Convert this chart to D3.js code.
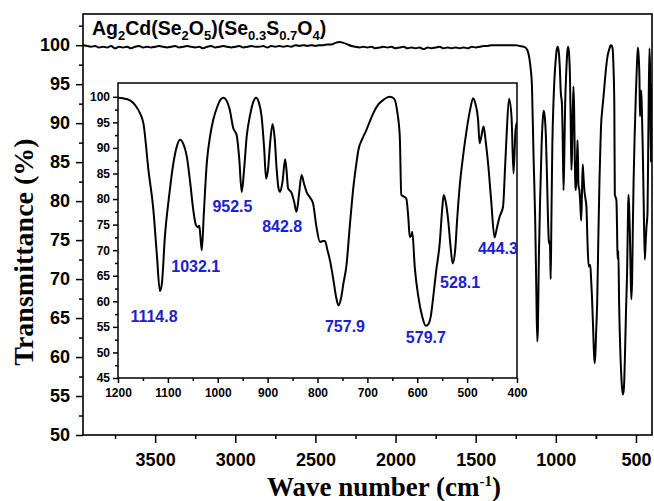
<!DOCTYPE html>
<html><head><meta charset="utf-8">
<script src="https://cdn.jsdelivr.net/npm/d3@7"></script>
<style>body{margin:0;background:#fff}</style>
</head><body>
<svg id="chart" width="654" height="501"></svg>
<script>
// ---- data ----
const highWave = [3950,3925,3900,3875,3850,3825,3800,3775,3750,3725,3700,3675,3650,3625,3600,3575,3550,3525,3500,3475,3450,3425,3400,3375,3350,3325,3300,3275,3250,3225,3200,3175,3150,3125,3100,3075,3050,3025,3000,2975,2950,2925,2900,2875,2850,2825,2800,2775,2750,2725,2700,2675,2650,2625,2600,2575,2550,2525,2500,2475,2450,2425,2400,2375,2350,2325,2300,2275,2250,2225,2200,2175,2150,2125,2100,2075,2050,2025,2000,1975,1950,1925,1900,1875,1850,1825,1800,1775,1750,1725,1700,1675,1650,1625,1600,1575,1550,1525,1500,1475,1450,1425,1400,1375,1350,1325,1300,1275,1250,1225];
const highT = [100.0,99.9,99.8,99.9,99.7,99.8,99.7,99.9,99.6,99.8,99.7,99.8,99.6,99.8,99.9,99.7,99.8,99.7,99.8,99.9,99.8,99.7,99.8,99.9,99.7,99.8,99.9,99.8,99.7,99.8,99.6,99.8,99.9,99.7,99.8,99.9,99.8,99.7,99.8,99.9,99.7,99.8,99.9,99.8,99.8,99.9,99.7,99.9,99.8,99.9,99.8,99.9,99.8,100.0,99.9,100.0,99.9,100.0,99.9,100.0,100.0,100.1,100.1,100.3,100.4,100.3,100.1,99.9,99.8,99.7,99.8,99.7,99.8,99.6,99.7,99.8,99.7,99.8,99.6,99.7,99.8,99.6,99.7,99.6,99.7,99.5,99.7,99.6,99.7,99.8,99.6,99.7,99.6,99.7,99.6,99.7,99.6,99.8,99.7,99.8,99.9,99.9,100.0,100.0,100.0,100.0,100.0,100.0,100.0,99.9];
const fpWave = [1200,1190,1176,1165,1156,1149,1139,1129,1122,1116,1112,1106,1097,1089,1082,1076,1069,1062,1055,1049,1044,1040,1037,1035,1032,1028,1022,1015,1009,1000,994,988,982,976,969,962,957,952,947,942,935,928,923,918,912,907,903,899,895,890,886,882,878,875,870,865,862,859,852,847,842,837,832,827,822,815,809,802,795,789,785,780,775,768,763,758,753,748,742,735,728,722,718,710,702,695,688,678,668,660,655,650,645,640,635,632,627,622,618,615,612,610,605,598,590,583,578,573,568,562,555,550,547,543,538,533,529,524,520,515,508,501,494,488,483,478,475,471,467,463,458,452,445,440,435,428,424,421,416,411,407,403,400];
const fpT = [99.8,99.7,99.3,98.3,96.8,94.8,85.7,77.8,69.0,62.0,63.5,72.6,81.0,87.0,90.3,91.6,90.8,88.3,83.0,77.8,75.0,74.5,74.8,73.0,70.0,77.0,87.0,92.5,95.5,98.3,99.5,99.8,99.2,97.5,93.9,92.5,88.0,81.4,86.0,92.2,96.5,99.2,99.8,99.0,96.1,90.0,84.0,86.0,91.0,94.7,92.0,86.0,82.0,81.4,83.5,87.8,85.5,82.1,81.2,79.5,77.5,81.0,84.7,83.0,81.4,80.3,79.2,74.5,71.6,71.8,71.8,70.0,68.0,64.1,61.0,59.2,60.5,63.5,67.0,75.0,82.4,87.0,89.6,91.8,93.5,95.2,96.8,98.5,99.4,99.9,100.0,99.9,99.4,97.0,92.2,80.8,80.5,80.1,76.5,72.6,72.8,73.6,66.7,61.0,57.0,55.2,55.5,57.0,60.8,66.0,71.3,78.0,80.8,79.5,75.9,70.5,67.4,70.0,76.0,82.4,88.5,93.5,97.5,99.7,98.5,95.5,90.9,92.5,94.2,91.5,87.0,80.0,72.5,74.5,76.5,78.5,86.0,92.2,99.6,96.1,85.0,93.5,95.0];
const peakWaves = [1114.8,1032.1,952.5,842.8,757.9,579.7,528.1,444.3];
const peakText = ["1114.8","1032.1","952.5","842.8","757.9","579.7","528.1","444.3"];
const mainXTicks = [3500,3000,2500,2000,1500,1000,500];
const mainYTicks = [50,55,60,65,70,75,80,85,90,95,100];
const insetXTicks = [1200,1100,1000,900,800,700,600,500,400];
const insetYTicks = [45,50,55,60,65,70,75,80,85,90,95,100];

// ---- layout ----
const M = {left:83, right:652, top:14, bottom:435};
const I = {left:118, right:517, top:83, bottom:378};
const labelLayout = [[-6.5,57.1],[-6,66.9],[-9,78.6],[-14,74.7],[6.5,55.2],[-1.5,53],[7,63.8],[3,70.4]];
const sans = "'Liberation Sans', Arial, sans-serif";
const serif = "'Liberation Serif', 'Times New Roman', serif";

const svg = d3.select("#chart");
svg.append("rect").attr("width",654).attr("height",501).attr("fill","#fff");

const allWave = highWave.concat(fpWave);
const allT = highT.concat(fpT);
const mainData = allWave.map((w,i)=>[w, allT[i]]);
const fpData = fpWave.map((w,i)=>[w, fpT[i]]);

const x = d3.scaleLinear().domain([3950,400]).range([M.left,M.right]);
const y = d3.scaleLinear().domain([50,104]).range([M.bottom,M.top]);

svg.append("clipPath").attr("id","mclip").append("rect")
  .attr("x",M.left).attr("y",M.top).attr("width",M.right-M.left).attr("height",M.bottom-M.top);

const mainLine = d3.line().x(d=>x(d[0])).y(d=>y(d[1])).curve(d3.curveMonotoneX);
svg.append("path").datum(mainData).attr("d",mainLine).attr("fill","none")
  .attr("stroke","#000").attr("stroke-width",2).attr("clip-path","url(#mclip)");

// main axes
function styleAxis(g, size){
  g.select(".domain").remove();
  g.selectAll(".tick line").attr("stroke","#000").attr("stroke-width",1.5);
  g.selectAll("text").attr("font-family",sans).attr("font-weight","bold").attr("font-size",size).attr("fill","#000");
}
const gx = svg.append("g").attr("transform",`translate(0,${M.bottom})`)
  .call(d3.axisBottom(x).tickValues(mainXTicks).tickSize(8).tickPadding(10).tickFormat(d3.format("d")));
styleAxis(gx,18);
const gxm = svg.append("g").attr("transform",`translate(0,${M.bottom})`)
  .call(d3.axisBottom(x).tickValues(mainXTicks.map(v=>v+250).concat([750])).tickSize(4).tickFormat(""));
styleAxis(gxm,18);
const gy = svg.append("g").attr("transform",`translate(${M.left},0)`)
  .call(d3.axisLeft(y).tickValues(mainYTicks).tickSize(7).tickPadding(6));
styleAxis(gy,18);
const gym = svg.append("g").attr("transform",`translate(${M.left},0)`)
  .call(d3.axisLeft(y).tickValues(mainYTicks.slice(0,-1).map(v=>v+2.5).concat([102.5])).tickSize(4).tickFormat(""));
styleAxis(gym,18);

svg.append("rect").attr("x",M.left).attr("y",M.top).attr("width",M.right-M.left).attr("height",M.bottom-M.top)
  .attr("fill","none").attr("stroke","#000").attr("stroke-width",1.6);

// title
const title = svg.append("text").attr("x",92).attr("y",35).attr("font-family",sans)
  .attr("font-weight","bold").attr("font-size",19.5).attr("fill","#000");
const parts = [["Ag",0],["2",1],["Cd(Se",0],["2",1],["O",0],["5",1],[")(Se",0],["0.3",1],["S",0],["0.7",1],["O",0],["4",1],[")",0]];
let prevSub = 0;
parts.forEach(([t,sub])=>{
  const dy = sub===prevSub ? 0 : (sub ? 5 : -5);
  title.append("tspan").attr("dy",dy).attr("font-size",sub?13:19.5).text(t);
  prevSub = sub;
});

// axis titles
svg.append("text").attr("transform","translate(33,252) rotate(-90)").attr("text-anchor","middle")
  .attr("font-family",serif).attr("font-weight","bold").attr("font-size",28).attr("fill","#000")
  .text("Transmittance (%)");
const xt = svg.append("text").attr("x",384).attr("y",496).attr("text-anchor","middle")
  .attr("font-family",serif).attr("font-weight","bold").attr("font-size",27).attr("fill","#000");
xt.append("tspan").text("Wave number (cm");
xt.append("tspan").attr("font-size",15).attr("dy",-10).text("-1");
xt.append("tspan").attr("dy",10).text(")");

// ---- inset ----
const ix = d3.scaleLinear().domain([1200,400]).range([I.left,I.right]);
const iy = d3.scaleLinear().domain([45,102.7]).range([I.bottom,I.top]);
svg.append("rect").attr("x",I.left).attr("y",I.top).attr("width",I.right-I.left).attr("height",I.bottom-I.top)
  .attr("fill","#fff");
svg.append("clipPath").attr("id","iclip").append("rect")
  .attr("x",I.left).attr("y",I.top).attr("width",I.right-I.left).attr("height",I.bottom-I.top);
const insetLine = d3.line().x(d=>ix(d[0])).y(d=>iy(d[1])).curve(d3.curveMonotoneX);
svg.append("path").datum(fpData).attr("d",insetLine).attr("fill","none")
  .attr("stroke","#000").attr("stroke-width",2).attr("clip-path","url(#iclip)");

const igx = svg.append("g").attr("transform",`translate(0,${I.bottom})`)
  .call(d3.axisBottom(ix).tickValues(insetXTicks).tickSize(5).tickPadding(5).tickFormat(d3.format("d")));
styleAxis(igx,12);
const igxm = svg.append("g").attr("transform",`translate(0,${I.bottom})`)
  .call(d3.axisBottom(ix).tickValues(insetXTicks.slice(1).map(v=>v+50)).tickSize(3).tickFormat(""));
styleAxis(igxm,12);
const igy = svg.append("g").attr("transform",`translate(${I.left},0)`)
  .call(d3.axisLeft(iy).tickValues(insetYTicks).tickSize(5).tickPadding(3));
styleAxis(igy,12);
const igym = svg.append("g").attr("transform",`translate(${I.left},0)`)
  .call(d3.axisLeft(iy).tickValues(insetYTicks.slice(0,-1).map(v=>v+2.5)).tickSize(3).tickFormat(""));
styleAxis(igym,12);
svg.append("rect").attr("x",I.left).attr("y",I.top).attr("width",I.right-I.left).attr("height",I.bottom-I.top)
  .attr("fill","none").attr("stroke","#000").attr("stroke-width",1.5);

// peak labels
svg.append("g").selectAll("text").data(peakWaves).join("text")
  .attr("x",(d,i)=>ix(d)+labelLayout[i][0])
  .attr("y",(d,i)=>iy(labelLayout[i][1]))
  .attr("dy","0.36em").attr("text-anchor","middle")
  .attr("font-family",sans).attr("font-weight","bold").attr("font-size",16).attr("fill","#2020cc")
  .text((d,i)=>peakText[i]);
</script>
</body></html>
